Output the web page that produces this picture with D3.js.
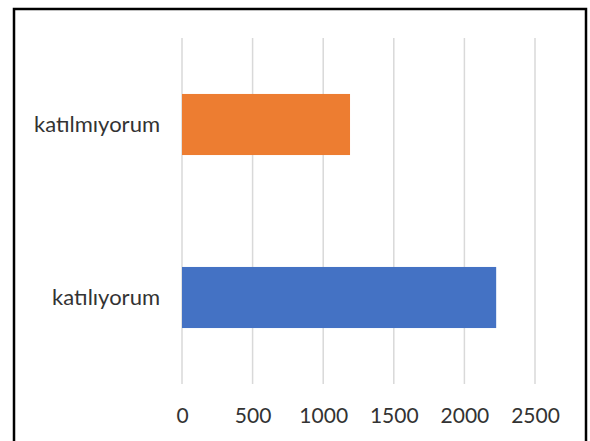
<!DOCTYPE html>
<html>
<head>
<meta charset="utf-8">
<script src="https://cdn.jsdelivr.net/npm/d3@7"></script>
<style>
  html, body { margin: 0; padding: 0; background: #fff; }
</style>
</head>
<body>
<div id="chart"></div>
<script>
var categories = ["katılmıyorum", "katılıyorum"];
var values = [1190, 2225];
var colors = ["#ED7D31", "#4472C4"];
var tickValues = [0, 500, 1000, 1500, 2000, 2500];

var width = 590, height = 441;
var margin = { left: 182, right: 55, top: 38, bottom: 57 };

var svg = d3.select("#chart").append("svg")
    .attr("width", width)
    .attr("height", height);

// outer frame
svg.append("rect")
    .attr("x", 14).attr("y", 9)
    .attr("width", 572).attr("height", 450)
    .attr("fill", "none")
    .attr("stroke", "#000")
    .attr("stroke-width", 2.5);

var x = d3.scaleLinear()
    .domain([0, 2500])
    .range([margin.left, width - margin.right]);

var y = d3.scaleBand()
    .domain(categories)
    .range([margin.top, height - margin.bottom])
    .paddingInner(0.647)
    .paddingOuter(0.3235);

// grid
svg.append("g").selectAll("line")
    .data(tickValues)
    .enter().append("line")
    .attr("x1", function(d) { return x(d); })
    .attr("x2", function(d) { return x(d); })
    .attr("y1", margin.top)
    .attr("y2", height - margin.bottom)
    .attr("stroke", "#d9d9d9")
    .attr("stroke-width", 1.5);

// bars
svg.append("g").selectAll("rect")
    .data(categories)
    .enter().append("rect")
    .attr("x", x(0))
    .attr("y", function(d) { return y(d); })
    .attr("width", function(d, i) { return x(values[i]) - x(0); })
    .attr("height", y.bandwidth())
    .attr("fill", function(d, i) { return colors[i]; });

// x axis labels
var xAxis = d3.axisBottom(x).tickValues(tickValues).tickFormat(d3.format("d")).tickSize(0).tickPadding(0);
var gx = svg.append("g")
    .attr("transform", "translate(0," + (height - margin.bottom + 24) + ")")
    .call(xAxis);
gx.select(".domain").remove();
gx.selectAll("text")
    .attr("font-family", "Lato, 'Open Sans', sans-serif")
    .attr("font-size", 21)
    .attr("fill", "#333");

// y axis labels
var yAxis = d3.axisLeft(y).tickSize(0).tickPadding(22);
var gy = svg.append("g")
    .attr("transform", "translate(" + margin.left + ",0)")
    .call(yAxis);
gy.select(".domain").remove();
gy.selectAll("text")
    .attr("font-family", "Lato, 'Open Sans', sans-serif")
    .attr("font-size", 22)
    .attr("fill", "#333");
</script>
</body>
</html>
